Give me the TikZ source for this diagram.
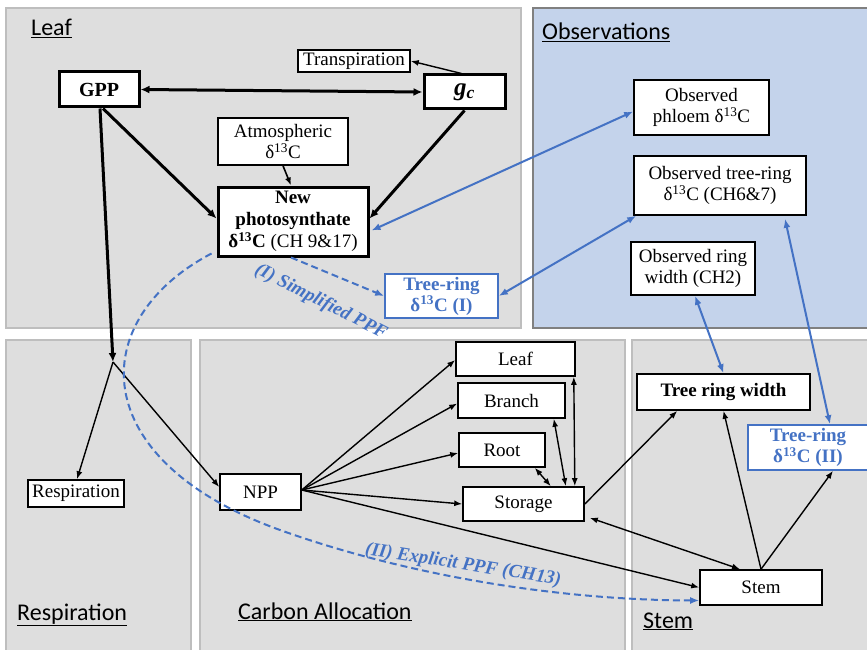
\documentclass[tikz,border=0pt]{standalone}
\usepackage{fontspec}
\setmainfont{Liberation Serif}
\newfontfamily\titlefont{Carlito}
\usetikzlibrary{arrows.meta,calc}
\definecolor{panelgrey}{HTML}{DEDEDE}
\definecolor{panelline}{HTML}{BEBEBE}
\definecolor{obsblue}{HTML}{C4D3EB}
\definecolor{tblue}{HTML}{4472C4}
\newcommand{\dC}{δ\textsuperscript{13}C}
\begin{document}
\begin{tikzpicture}[x=1pt,y=-1pt,
  panel/.style={draw=panelline, line width=1.5pt, fill=panelgrey},
  ptitle/.style={anchor=base west, inner sep=0pt, font=\titlefont\fontsize{24}{26}\selectfont},
  box/.style={draw=black, fill=white, line width=1.6pt, inner sep=0pt, align=center,
              font=\fontsize{19}{21}\selectfont},
  thickbox/.style={box, line width=3pt},
  bluebox/.style={box, draw=tblue, text=tblue, font=\fontsize{19}{21}\selectfont\bfseries},
  flow/.style={line width=1.4pt, -{Latex[length=8pt,width=6pt]}},
  flow2/.style={line width=1.4pt, {Latex[length=8pt,width=6pt]}-{Latex[length=8pt,width=6pt]}},
  bigflow/.style={line width=3pt, -{Latex[length=9pt,width=8pt]}},
  bigflow2/.style={line width=3pt, {Latex[length=9pt,width=8pt]}-{Latex[length=9pt,width=8pt]}},
  obs/.style={draw=tblue, line width=2pt, {Latex[length=9pt,width=7pt]}-{Latex[length=9pt,width=7pt]}},
  ppf/.style={draw=tblue, line width=2pt, dashed, dash pattern=on 7pt off 4pt, -{Latex[length=9pt,width=7pt]}},
  ppflabel/.style={text=tblue, inner sep=0pt, font=\fontsize{19}{21}\selectfont\bfseries\itshape}
]
\useasboundingbox (0,0) rectangle (867,650);
\clip (0,0) rectangle (867,650);

% compartments
\fill[white] (0,0) rectangle (867,650);
\draw[panel] (6,8) rectangle (521,328);
\draw[panel, fill=obsblue, draw=gray] (533,8) rectangle (880,328);
\draw[panel] (6,340) rectangle (191,660);
\draw[panel] (200,340) rectangle (625,660);
\draw[panel] (632,340) rectangle (880,660);

\node[ptitle] (tLeaf) at (31,36) {\underline{Leaf}};
\node[ptitle] (tObs) at (542,40) {\underline{Observations}};
\node[ptitle] (tResp) at (17,620) {\underline{Respiration}};
\node[ptitle] (tAlloc) at (238,619) {\underline{Carbon Allocation}};
\node[ptitle] (tStem) at (643,628) {\underline{Stem}};

% leaf nodes
\node[box, line width=1.4pt, minimum width=112, minimum height=22] (Transp) at (354,61) {Transpiration};
\node[thickbox, minimum width=80, minimum height=35, font=\fontsize{20}{22}\selectfont\bfseries] (GPP) at (99,89.5) {GPP};
\node[thickbox, minimum width=81, minimum height=34, font=\fontsize{25}{26}\selectfont\bfseries\itshape] (gc) at (464.5,92) {g\textsubscript{c}};
\node[box, minimum width=130, minimum height=47] (Atmos) at (283,141.5) {Atmospheric\\\dC};
\node[thickbox, minimum width=150, minimum height=69, font=\fontsize{19}{22}\selectfont] (NewP) at (293,221.5)
  {\textbf{New}\\\textbf{photosynthate}\\\textbf{\dC} (CH 9\&17)};
\node[bluebox, minimum width=113, minimum height=44] (TRI) at (441.5,296) {Tree-ring\\\dC\ (I)};

% observation nodes
\node[box, minimum width=135, minimum height=55] (ObsPh) at (701.5,107.5) {Observed\\phloem \dC};
\node[box, minimum width=172, minimum height=59] (ObsTR) at (720,185.5) {Observed tree-ring\\\dC\ (CH6\&7)};
\node[box, minimum width=124, minimum height=53] (ObsRW) at (693,268.5) {Observed ring\\width (CH2)};

% respiration and allocation nodes
\node[box, minimum width=96, minimum height=27] (Resp) at (76,493.5) {Respiration};
\node[box, minimum width=81, minimum height=36] (NPP) at (260.5,492) {NPP};
\node[box, minimum width=119, minimum height=34] (LeafA) at (515.5,359) {Leaf};
\node[box, minimum width=107, minimum height=35] (Branch) at (511.5,400.5) {Branch};
\node[box, minimum width=86, minimum height=34] (Root) at (502,450) {Root};
\node[box, minimum width=121, minimum height=34] (Storage) at (523.5,504) {Storage};

% stem nodes
\node[box, minimum width=173, minimum height=36, font=\fontsize{19}{21}\selectfont\bfseries] (TRW) at (723.5,392) {Tree ring width};
\node[bluebox, minimum width=120, minimum height=45] (TRII) at (808,447.5) {Tree-ring\\\dC\ (II)};
\node[box, minimum width=122, minimum height=35] (Stem) at (761,587.5) {Stem};

\coordinate (J) at (113,362);

% leaf fluxes
\draw[bigflow2] (GPP.east) -- (gc.west);
\draw[flow] ($(gc.north)+(-3,0)$) -- (Transp.east);
\draw[bigflow] ($(GPP.south)+(4,0)$) -- ($(NewP.west)+(0,-3)$);
\draw[bigflow] (gc.south) -- ($(NewP.east)+(0,-3)$);
\draw[flow, line width=1.6pt] (Atmos.south) -- ($(NewP.north)+(-2,0)$);
\draw[bigflow] ($(GPP.south)+(1,0)$) -- (J);

% respiration and allocation
\draw[flow] (J) -- ($(Resp.north)+(1,0)$);
\draw[flow] (J) -- ($(NPP.west)+(0,-5)$);
\draw[flow] ($(NPP.east)+(0,-2)$) -- ($(LeafA.west)+(0,1)$);
\draw[flow] ($(NPP.east)+(0,-2)$) -- ($(Branch.west)+(0,3)$);
\draw[flow] ($(NPP.east)+(0,-2)$) -- ($(Root.west)+(0,3)$);
\draw[flow] ($(NPP.east)+(0,-2)$) -- (Storage.west);
\draw[flow] ($(NPP.east)+(0,-2)$) -- (Stem.west);
\draw[flow2] ($(LeafA.south east)+(-2,0)$) -- ($(Storage.north east)+(-10,0)$);
\draw[flow2] ($(Branch.south east)+(-12,0)$) -- ($(Storage.north east)+(-19,0)$);
\draw[flow2] ($(Root.south east)+(-11,0)$) -- ($(Storage.north east)+(-34,0)$);

% stem
\draw[flow] (Storage.east) -- ($(TRW.south west)+(41,0)$);
\draw[flow2] ($(Storage.south east)+(5,-4)$) -- ($(Stem.north)+(-21,0)$);
\draw[flow] (Stem.north) -- (TRW.south);
\draw[flow] (Stem.north) -- ($(TRII.south)+(25,0)$);

% links to observations
\draw[obs] ($(ObsPh.west)+(0,4)$) -- ($(NewP.east)+(2,9)$);
\draw[obs] ($(ObsTR.south west)+(3,0)$) -- (TRI.east);
\draw[obs] ($(ObsTR.south)+(65,3)$) -- ($(TRII.north)+(22,0)$);
\draw[obs] ($(ObsRW.south)+(2,0)$) -- (TRW.north);

% partitioning pathways
\draw[ppf] ($(NewP.south)+(-2,0)$) -- (TRI.west);
\node[ppflabel, rotate=-27] (lblI) at (321,302) {(I) Simplified PPF};
\draw[ppf] ($(NewP.south west)+(-5,-4)$) .. controls (85,320) and (85,460) .. (280,530)
  .. controls (400,573) and (550,600) .. ($(Stem.west)+(0,13)$);
\node[ppflabel, rotate=-9] (lblII) at (463,565) {(II) Explicit PPF (CH13)};
\end{tikzpicture}
\end{document}
